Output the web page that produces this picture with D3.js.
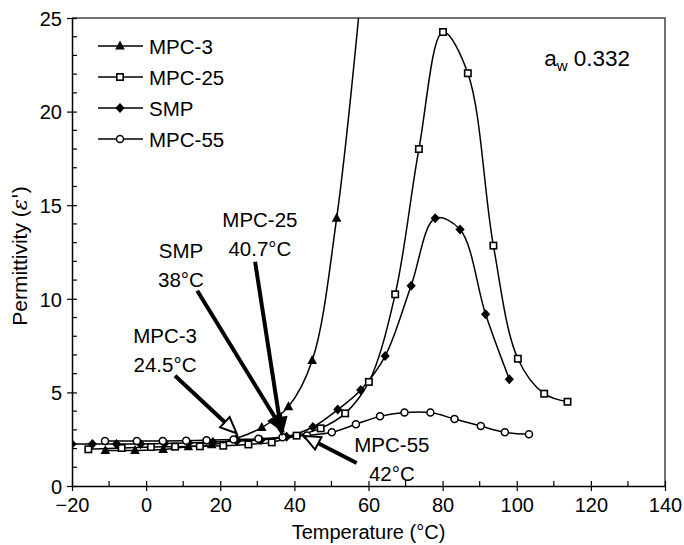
<!DOCTYPE html>
<html>
<head>
<meta charset="utf-8">
<script src="https://cdn.jsdelivr.net/npm/d3@7"></script>
<style>
  html, body { margin: 0; padding: 0; background: #fff; }
  svg text { font-family: "Liberation Sans", Arial, sans-serif; fill: #000; }
</style>
</head>
<body>
<svg id="chart" width="684" height="545"></svg>
<script>
/* ---------- Data ---------- */
const mpc3 = [
  [-11, 1.9], [-3, 1.9], [4.6, 1.95], [11.4, 2.1], [17.7, 2.2], [24.4, 2.55],
  [31.2, 3.12], [38.4, 4.24], [44.8, 6.7], [51.4, 14.3], [58.5, 27.5]
];
const mpc25 = [
  [-15.6, 1.96], [-6.6, 2.03], [1.3, 2.08], [7.8, 2.1], [14.5, 2.12], [20.8, 2.15],
  [27.6, 2.22], [33.9, 2.33], [40.6, 2.69], [47.1, 3.08], [53.7, 3.88], [60.1, 5.56],
  [67.2, 10.24], [73.6, 18.0], [80.1, 24.25], [86.8, 22.05], [93.7, 12.84],
  [100.3, 6.8], [107.4, 4.93], [113.7, 4.5]
];
const smp = [
  [-20, 2.25], [-14.5, 2.25], [-8, 2.25], [-1.5, 2.25], [5, 2.27], [11.5, 2.3],
  [18, 2.35], [24.5, 2.4], [31, 2.46], [37.9, 2.63], [45, 3.15], [51.7, 4.08],
  [57.9, 5.13], [64.5, 6.94], [71.5, 10.7], [78, 14.3], [84.7, 13.7],
  [91.6, 9.17], [98, 5.7]
];
const mpc55 = [
  [-11.1, 2.4], [-2.5, 2.4], [4.5, 2.4], [10.8, 2.42], [16.3, 2.45], [23.6, 2.49],
  [30.3, 2.52], [36.8, 2.6], [43.4, 2.7], [50.1, 2.87], [56.6, 3.3], [63.1, 3.72],
  [69.7, 3.92], [76.7, 3.92], [83.2, 3.58], [90.3, 3.2], [96.8, 2.87], [103.3, 2.76]
];

const seriesNames = ["MPC-3", "MPC-25", "SMP", "MPC-55"];
const seriesData  = [mpc3, mpc25, smp, mpc55];
const seriesMarks = ["triangle", "square", "diamond", "circle"];

const xTicksMajor = [-20, 0, 20, 40, 60, 80, 100, 120, 140];
const yTicksMajor = [0, 5, 10, 15, 20, 25];

// onset annotations: label lines, label anchor, arrow start -> tip (data units)
const noteLabels = [["MPC-25", "40.7°C"], ["SMP", "38°C"], ["MPC-3", "24.5°C"], ["MPC-55", "42°C"]];
const noteAnchor = [[30.7, 13.84], [9.4, 12.18], [5.1, 7.64], [66.3, 1.82]];
const noteArrows = [
  [[29.4, 11.98], [36.6, 2.78]],
  [[13.8, 10.43], [37.0, 2.94]],
  [[7.8, 5.89], [24.4, 2.82]],
  [[56.8, 1.23], [42.6, 2.67]]
];
const noteHeadFill = ["#000", "#000", "#fff", "#fff"];

/* ---------- Layout ---------- */
const svg = d3.select("#chart");
const x = d3.scaleLinear().domain([-20, 140]).range([72, 665]);
const y = d3.scaleLinear().domain([0, 25]).range([486, 18]);
const FS = 20.5;

svg.append("defs").append("clipPath").attr("id", "plotClip")
  .append("rect")
  .attr("x", x(-20)).attr("y", y(25))
  .attr("width", x(140) - x(-20)).attr("height", y(0) - y(25));

// frame (top + right)
svg.append("path")
  .attr("d", `M${x(-20)},${y(25)}H${x(140)}V${y(0)}`)
  .attr("fill", "none").attr("stroke", "#444").attr("stroke-width", 1.5);

/* ---------- Axes ---------- */
const xAxis = svg.append("g").attr("transform", `translate(0,${y(0)})`);
xAxis.call(d3.axisBottom(x).tickValues(xTicksMajor).tickSize(5).tickSizeOuter(0)
  .tickFormat(d => d < 0 ? "\u2212" + Math.abs(d) : d));
xAxis.call(g => g.select(".domain").attr("stroke", "#000").attr("stroke-width", 1.5));
xAxis.selectAll(".tick line").attr("y1", -5).attr("stroke-width", 1.2);
xAxis.selectAll(".tick text").attr("font-size", 20).attr("dy", null).attr("y", 26)
  .attr("font-family", "Liberation Sans, Arial, sans-serif");
xAxis.append("g").selectAll("line")
  .data(d3.range(-10, 140, 20))
  .join("line")
  .attr("x1", d => x(d)).attr("x2", d => x(d))
  .attr("y1", 0).attr("y2", -5)
  .attr("stroke", "#000").attr("stroke-width", 1.2);

const yAxis = svg.append("g").attr("transform", `translate(${x(-20)},0)`);
yAxis.call(d3.axisLeft(y).tickValues(yTicksMajor).tickSize(5).tickSizeOuter(0));
yAxis.call(g => g.select(".domain").attr("stroke", "#000").attr("stroke-width", 1.5));
yAxis.selectAll(".tick line").attr("x1", 5).attr("stroke-width", 1.2);
yAxis.selectAll(".tick text").attr("font-size", 20).attr("x", -10).attr("dy", "0.36em")
  .attr("font-family", "Liberation Sans, Arial, sans-serif");
yAxis.append("g").selectAll("line")
  .data(d3.range(1, 25).filter(d => d % 5 !== 0))
  .join("line")
  .attr("x1", 0).attr("x2", 5)
  .attr("y1", d => y(d)).attr("y2", d => y(d))
  .attr("stroke", "#000").attr("stroke-width", 1.2);

svg.append("text")
  .attr("x", (x(-20) + x(140)) / 2).attr("y", 539)
  .attr("text-anchor", "middle").attr("font-size", 20)
  .text("Temperature (°C)");

svg.append("text")
  .attr("transform", `translate(27,${(y(0) + y(25)) / 2 + 4}) rotate(-90)`)
  .attr("text-anchor", "middle").attr("font-size", 21)
  .text("Permittivity (")
  .call(t => t.append("tspan").attr("font-style", "italic").attr("font-family", "DejaVu Serif, serif").text("ε'"))
  .call(t => t.append("tspan").text(")"));

/* ---------- Series ---------- */
function drawMarker(sel, kind){
  if (kind === "triangle"){
    sel.append("path").attr("d", "M0,-5.5L4.8,3.5L-4.8,3.5Z").attr("fill", "#000");
  } else if (kind === "square"){
    sel.append("rect").attr("x", -3.2).attr("y", -3.2).attr("width", 6.4).attr("height", 6.4)
      .attr("fill", "#fff").attr("stroke", "#000").attr("stroke-width", 1.6);
  } else if (kind === "diamond"){
    sel.append("path").attr("d", "M0,-5L4.6,0L0,5L-4.6,0Z").attr("fill", "#000");
  } else {
    sel.append("circle").attr("r", 3.5)
      .attr("fill", "#fff").attr("stroke", "#000").attr("stroke-width", 1.5);
  }
}

const line = d3.line()
  .x(d => x(d[0])).y(d => y(d[1]))
  .curve(d3.curveCatmullRom.alpha(0.5));

const plot = svg.append("g").attr("clip-path", "url(#plotClip)");

seriesData.forEach(data => {
  plot.append("path")
    .datum(data)
    .attr("d", line)
    .attr("fill", "none").attr("stroke", "#000").attr("stroke-width", 1.5);
});
seriesData.forEach((data, i) => {
  plot.append("g").selectAll("g")
    .data(data)
    .join("g")
    .attr("transform", d => `translate(${x(d[0])},${y(d[1])})`)
    .each(function(){ drawMarker(d3.select(this), seriesMarks[i]); });
});

/* ---------- Legend ---------- */
const legend = svg.append("g");
seriesNames.forEach((name, i) => {
  const cy = 46 + i * 31;
  const g = legend.append("g").attr("transform", `translate(0,${cy})`);
  g.append("line").attr("x1", 98).attr("x2", 143).attr("y1", 0).attr("y2", 0)
    .attr("stroke", "#000").attr("stroke-width", 1.5);
  drawMarker(g.append("g").attr("transform", "translate(120,0)"), seriesMarks[i]);
  g.append("text").attr("x", 149).attr("y", 7.5).attr("font-size", FS).text(name);
});

/* ---------- a_w label ---------- */
const aw = svg.append("text").attr("x", x(107.4)).attr("y", y(22.45)).attr("font-size", 22.5);
aw.append("tspan").text("a");
aw.append("tspan").attr("font-size", 15).attr("dy", 5).text("w");
aw.append("tspan").attr("dy", -5).text(" 0.332");

/* ---------- Onset annotations ---------- */
noteArrows.forEach((a, i) => {
  const x1 = x(a[0][0]), y1 = y(a[0][1]);
  const x2 = x(a[1][0]), y2 = y(a[1][1]);
  const len = Math.hypot(x2 - x1, y2 - y1);
  const ux = (x2 - x1) / len, uy = (y2 - y1) / len;
  const hl = 16, hw = 7;
  const bx = x2 - ux * hl, by = y2 - uy * hl;
  svg.append("line")
    .attr("x1", x1).attr("y1", y1).attr("x2", bx).attr("y2", by)
    .attr("stroke", "#000").attr("stroke-width", 4);
  svg.append("path")
    .attr("d", `M${x2},${y2}L${bx - uy * hw},${by + ux * hw}L${bx + uy * hw},${by - ux * hw}Z`)
    .attr("fill", noteHeadFill[i]).attr("stroke", "#000").attr("stroke-width", 2)
    .attr("stroke-linejoin", "miter");
});

noteLabels.forEach((lines, i) => {
  const t = svg.append("text")
    .attr("text-anchor", "middle").attr("font-size", FS);
  lines.forEach((s, k) => {
    t.append("tspan").attr("x", x(noteAnchor[i][0]))
      .attr("y", y(noteAnchor[i][1]) + k * 29.5).text(s);
  });
});
</script>
</body>
</html>
